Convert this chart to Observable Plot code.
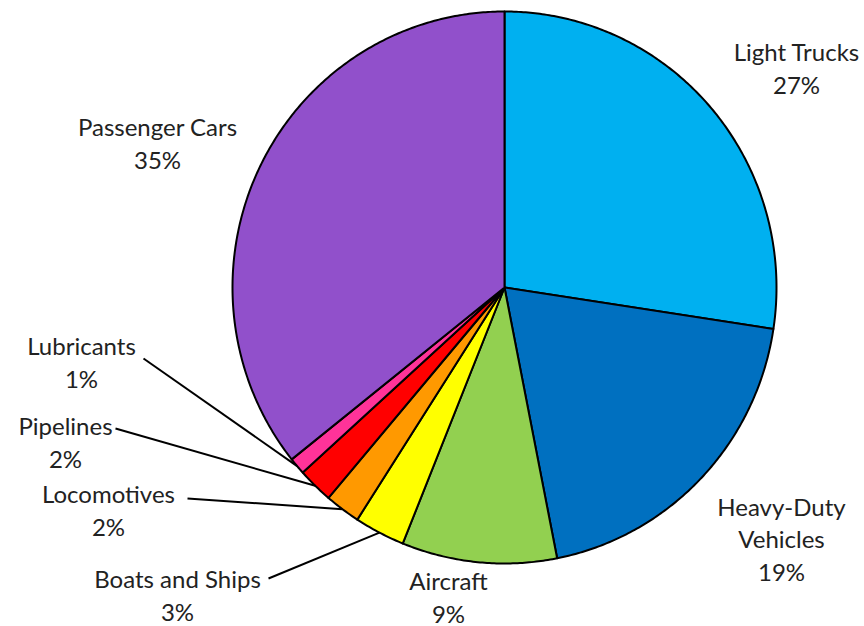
<!DOCTYPE html>
<html>
<head>
<meta charset="utf-8">
<script src="https://cdn.jsdelivr.net/npm/d3@7"></script>
<script src="https://cdn.jsdelivr.net/npm/@observablehq/plot@0.6"></script>
<style>
  html, body { margin: 0; padding: 0; background: #fff; }
  #chart svg { display: block; }
</style>
</head>
<body>
<div id="chart"></div>
<script>
// ---- data ----
const categories = ["Light Trucks", "Heavy-Duty Vehicles", "Aircraft", "Boats and Ships", "Locomotives", "Pipelines", "Lubricants", "Passenger Cars"];
const shares = [27.4, 19.5, 9.2, 3.0, 2.1, 2.1, 1.0, 35.7];
const pctLabels = ["27%", "19%", "9%", "3%", "2%", "2%", "1%", "35%"];
const displayNames = ["Light Trucks", "Heavy-Duty\nVehicles", "Aircraft", "Boats and Ships", "Locomotives", "Pipelines", "Lubricants", "Passenger Cars"];
const sliceColors = ["#00B0F0", "#0070C0", "#92D050", "#FFFF00", "#FF9900", "#FF0000", "#FF3399", "#9150CB"];

// ---- layout ----
const W = 864, H = 626;
const cx = 504, cy = 287, rx = 272, ry = 276;
const labelX = [796, 781, 448, 177, 108, 65, 81, 157];
const labelY = [93, 580, 622, 620, 535, 467, 387, 168]; // baseline of last line
const leaderX = [null, null, null, 268, 187, 115, 143, null];
const leaderY = [null, null, null, 578, 498, 428, 358, null];

const total = d3.sum(shares);
const toXY = (theta, f = 1) => [cx + f * rx * Math.sin(theta), cy - f * ry * Math.cos(theta)];

const polys = [];
const leaders = [];
let acc = 0;
categories.forEach((name, i) => {
  const a0 = acc / total * 2 * Math.PI;
  acc += shares[i];
  const a1 = acc / total * 2 * Math.PI;
  polys.push({name, x: cx, y: cy, color: sliceColors[i]});
  const n = Math.max(2, Math.ceil((a1 - a0) / (Math.PI / 360)));
  for (let k = 0; k <= n; k++) {
    const t = a0 + (a1 - a0) * k / n;
    const [x, y] = toXY(t);
    polys.push({name, x, y, color: sliceColors[i]});
  }
  if (leaderX[i] != null) {
    const [x2, y2] = toXY((a0 + a1) / 2);
    leaders.push({x1: leaderX[i], y1: leaderY[i], x2, y2});
  }
});

const labels = categories.map((c, i) => ({
  x: labelX[i], y: labelY[i], text: displayNames[i] + "\n" + pctLabels[i]
}));

const chart = Plot.plot({
  width: W,
  height: H,
  margin: 0,
  x: {domain: [0, W], range: [0, W], axis: null},
  y: {domain: [0, H], range: [0, H], axis: null},
  color: {type: "identity"},
  style: {background: "#fff", fontFamily: "Lato, 'Open Sans', sans-serif"},
  marks: [
    Plot.line(polys, {
      x: "x", y: "y", z: "name", fill: "color",
      stroke: "#000", strokeWidth: 2, strokeLinejoin: "round",
      curve: "linear-closed"
    }),
    Plot.link(leaders, {x1: "x1", y1: "y1", x2: "x2", y2: "y2", stroke: "#000", strokeWidth: 2}),
    Plot.text(labels, {
      x: "x", y: "y", text: "text",
      lineAnchor: "bottom", lineHeight: 1.35,
      fontSize: 24, fill: "#222", textAnchor: "middle"
    })
  ]
});
document.getElementById("chart").appendChild(chart);
</script>
</body>
</html>
